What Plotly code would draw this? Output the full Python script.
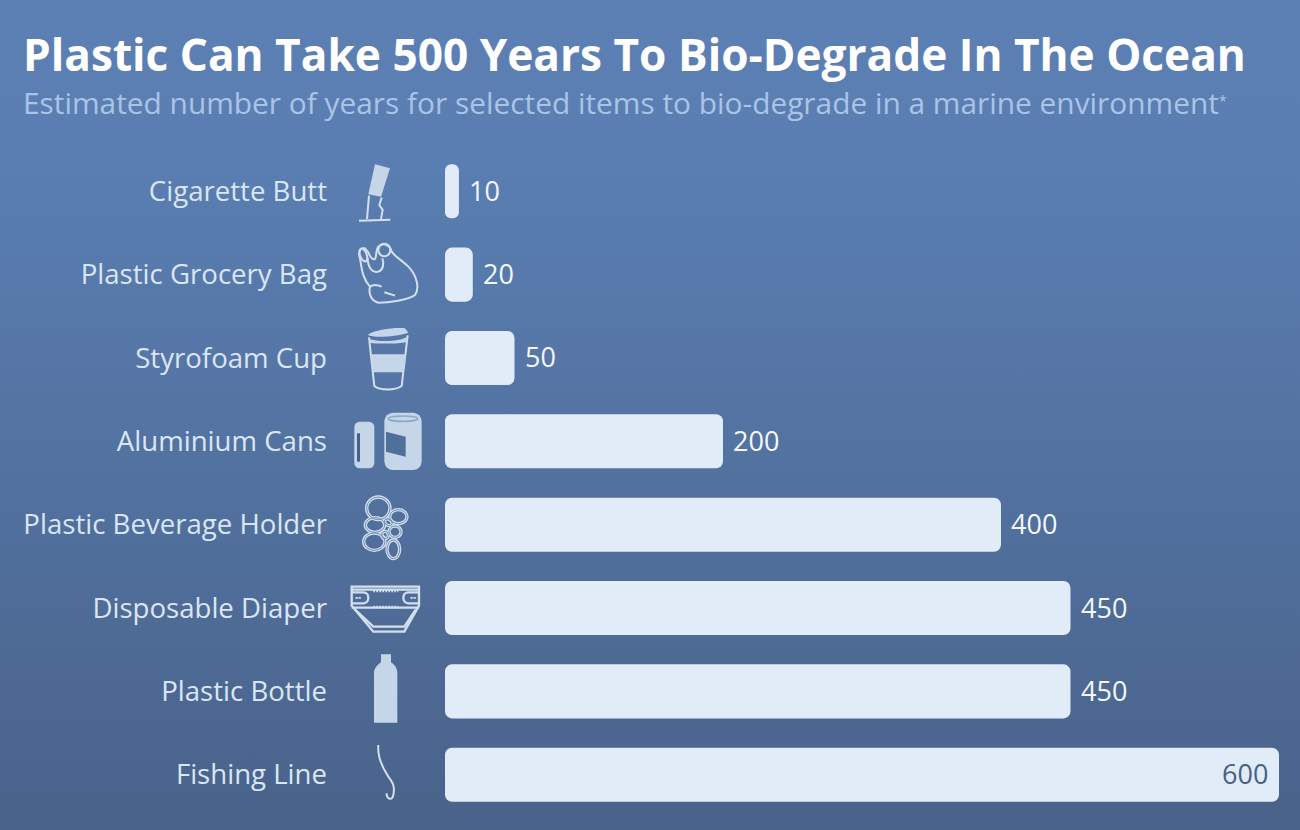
"""Years for marine items to bio-degrade, as a rounded horizontal bar chart."""

import base64

import plotly.graph_objects as go

W, H = 1300, 830

items = [
    "Cigarette Butt",
    "Plastic Grocery Bag",
    "Styrofoam Cup",
    "Aluminium Cans",
    "Plastic Beverage Holder",
    "Disposable Diaper",
    "Plastic Bottle",
    "Fishing Line",
]
years = [10, 20, 50, 200, 400, 450, 450, 600]

title_text = "Plastic Can Take 500 Years To Bio-Degrade In The Ocean"
subtitle_text = (
    "Estimated number of years for selected items to bio-degrade "
    'in a marine environment<span style="font-size:20px"><sup>*</sup></span>'
)

FONT = "Open Sans"
LABEL_COLOR = "#dbe6f4"
BAR_COLOR = "#e2ecf8"
ICON_LIGHT = "#d3e0f0"
ICON_FILL = "#c6d6e9"
DARK_BLUE = "#466186"

HOLDER_RINGS = """
  <ellipse cx="100" cy="55" rx="35" ry="34"/>
  <ellipse cx="160" cy="80" rx="26" ry="21"/>
  <ellipse cx="90" cy="105" rx="29" ry="22"/>
  <ellipse cx="130" cy="97" rx="12" ry="9" transform="rotate(30 130 97)"/>
  <ellipse cx="150" cy="125" rx="18" ry="17"/>
  <ellipse cx="120" cy="135" rx="10" ry="11"/>
  <ellipse cx="88" cy="155" rx="32" ry="26"/>
  <ellipse cx="145" cy="178" rx="19" ry="28"/>"""

# Icon outlines, drawn at 3x and placed with a translate + scale(1/3)
ICONS = [
    (345, 155, f"""
      <path d="M90 28 L135 40 L108 125 L70 118 Z" fill="{ICON_FILL}"/>
      <path d="M72 122 L66 192 M110 128 L103 150 L113 165 L108 192 M42 197 L136 194"
            fill="none" stroke="{ICON_LIGHT}" stroke-width="6"/>"""),
    (345, 235, f"""
      <g fill="none" stroke="{ICON_LIGHT}" stroke-width="6" stroke-linejoin="round">
        <path d="M60 40 C45 38 38 50 45 70 C50 100 52 130 75 155 C70 175 78 198 100 203
                 C130 203 190 195 210 180 C225 160 215 120 190 95 C170 75 150 65 140 50
                 C135 30 115 20 100 35 C92 45 95 65 90 72 C82 75 75 65 70 52 Z"/>
        <path d="M68 68 C68 100 85 115 100 110 C115 105 118 85 112 70"/>
        <ellipse cx="55" cy="60" rx="10" ry="20" transform="rotate(-20 55 60)"/>
        <ellipse cx="118" cy="45" rx="18" ry="19"/>
        <path d="M75 155 C88 145 100 150 110 155 M118 172 L150 182"/>
      </g>"""),
    (345, 320, f"""
      <path d="M68 45 C90 28 150 22 180 25 L190 38 C150 50 90 55 68 45 Z" fill="{ICON_FILL}"/>
      <path d="M72 52 L88 198 C105 212 150 212 170 198 L188 46" fill="none"
            stroke="{ICON_LIGHT}" stroke-width="6"/>
      <path d="M72 56 C100 66 160 66 187 50 L185 66 C160 72 100 72 73 68 Z" fill="{ICON_FILL}"/>
      <path d="M78 103 H183 L176 157 H84 Z" fill="{ICON_FILL}"/>
      <rect x="28" y="305" width="60" height="140" rx="16" fill="{ICON_FILL}"/>
      <rect x="36" y="340" width="9" height="85" fill="{DARK_BLUE}"/>
      <rect x="118" y="278" width="112" height="172" rx="26" fill="{ICON_FILL}"/>
      <ellipse cx="174" cy="296" rx="44" ry="8" fill="none" stroke="#8ea9ca" stroke-width="5"/>
      <path d="M123 335 L182 350 V410 L123 395 Z" fill="#4f7099"/>"""),
    (345, 490, f"""
      <g fill="none" stroke="{ICON_LIGHT}" stroke-width="10">{HOLDER_RINGS}</g>
      <g fill="none" stroke="#6f8db3" stroke-width="3">{HOLDER_RINGS}</g>"""),
    (345, 575, f"""
      <g fill="none" stroke="{ICON_LIGHT}" stroke-width="7">
        <path d="M20 35 H222 V92 L178 170 H85 L20 92 Z"/>
        <path d="M20 44 H222 M20 98 H222 M30 104 L85 155 H178 L212 104"/>
        <path d="M20 52 H55 C75 52 75 85 55 85 H20 M222 52 H190 C170 52 170 85 190 85 H222"/>
        <path d="M85 48 H160 M85 96 H160 M35 66 V74 M44 66 V74 M200 66 V74 M209 66 V74"
              stroke-dasharray="5 4"/>
      </g>"""),
    (340, 480, f"""
      <path d="M123 523 H153 V547 C165 555 172 565 172 580 V728 H102 V580
               C102 565 112 555 123 547 Z" fill="{ICON_FILL}"/>"""),
    (340, 480, f"""
      <path d="M115 795 C112 830 125 860 145 890 C160 910 165 920 160 945
               C158 962 140 960 140 940" fill="none" stroke="{ICON_LIGHT}" stroke-width="6"/>"""),
]


def svg_uri(body):
    svg = (
        f'<svg xmlns="http://www.w3.org/2000/svg" width="{W}" height="{H}" '
        f'viewBox="0 0 {W} {H}">{body}</svg>'
    )
    return "data:image/svg+xml;base64," + base64.b64encode(svg.encode()).decode()


def full_page_image(body, layer):
    return dict(
        source=svg_uri(body), xref="paper", yref="paper", x=0, y=1,
        sizex=1, sizey=1, xanchor="left", yanchor="top",
        sizing="stretch", layer=layer,
    )


background = f"""
  <defs><linearGradient id="bg" x1="0" y1="0" x2="0" y2="1">
    <stop offset="0" stop-color="#5d80b4"/>
    <stop offset="0.2" stop-color="#5a7eb2"/>
    <stop offset="1" stop-color="#49638a"/>
  </linearGradient></defs>
  <rect width="{W}" height="{H}" fill="url(#bg)"/>"""

# Slight blur, the icons in the source are soft
icons = (
    '<defs><filter id="soft"><feGaussianBlur stdDeviation="0.4"/></filter></defs>'
    '<g filter="url(#soft)">'
    + "".join(
        f'<g transform="translate({x} {y}) scale(0.3333)">{body}</g>' for x, y, body in ICONS
    )
    + "</g>"
)

fig = go.Figure()
# An explicit base makes plotly round both ends of the bar
fig.add_trace(go.Bar(
    x=years, y=items, base=[0] * len(items),
    orientation="h",
    marker=dict(color=BAR_COLOR, line_width=0, cornerradius=7),
    hoverinfo="skip",
))

# Value labels sit right of the bar, except the longest which goes inside
annotations = []
for item, value in zip(items, years):
    inside = value == max(years)
    annotations.append(dict(
        x=value, y=item, xref="x", yref="y",
        text=str(value), showarrow=False,
        xanchor="right" if inside else "left",
        xshift=-9 if inside else 8,
        yshift=1,
        font=dict(family=FONT, size=27, color=DARK_BLUE if inside else "#f4f8fd"),
    ))

annotations.append(dict(
    x=21 / W, y=1 - 102 / H, xref="paper", yref="paper",
    text=subtitle_text, showarrow=False, xanchor="left", yanchor="middle",
    font=dict(family=FONT, size=29.85, color="#a9c4e6"),
))

fig.update_layout(
    width=W, height=H,
    margin=dict(l=0, r=0, t=0, b=0),
    paper_bgcolor="#527098",
    plot_bgcolor="rgba(0,0,0,0)",
    showlegend=False,
    bargap=0.352,
    title=dict(
        text=f"<b>{title_text}</b>",
        x=23 / W, y=1 - 56 / H, xref="paper", yref="paper",
        xanchor="left", yanchor="middle",
        font=dict(family=FONT, size=44.2, color="#ffffff"),
    ),
    xaxis=dict(domain=[445 / W, 1279 / W], range=[0, 600], visible=False, fixedrange=True),
    yaxis=dict(
        domain=[1 - 816.4 / H, 1 - 149.6 / H],
        autorange="reversed",
        showgrid=False, zeroline=False, showline=False, ticks="",
        ticklabelstandoff=117,
        tickfont=dict(family=FONT, size=27.6, color=LABEL_COLOR),
        fixedrange=True,
    ),
    images=[full_page_image(background, "below"), full_page_image(icons, "above")],
    annotations=annotations,
)

# Default page margin would shift the whole figure by 8px
fig.write_html(
    "out.html",
    config=dict(displayModeBar=False),
    post_script="document.body.style.margin = '0'; document.body.style.overflow = 'hidden';",
)
